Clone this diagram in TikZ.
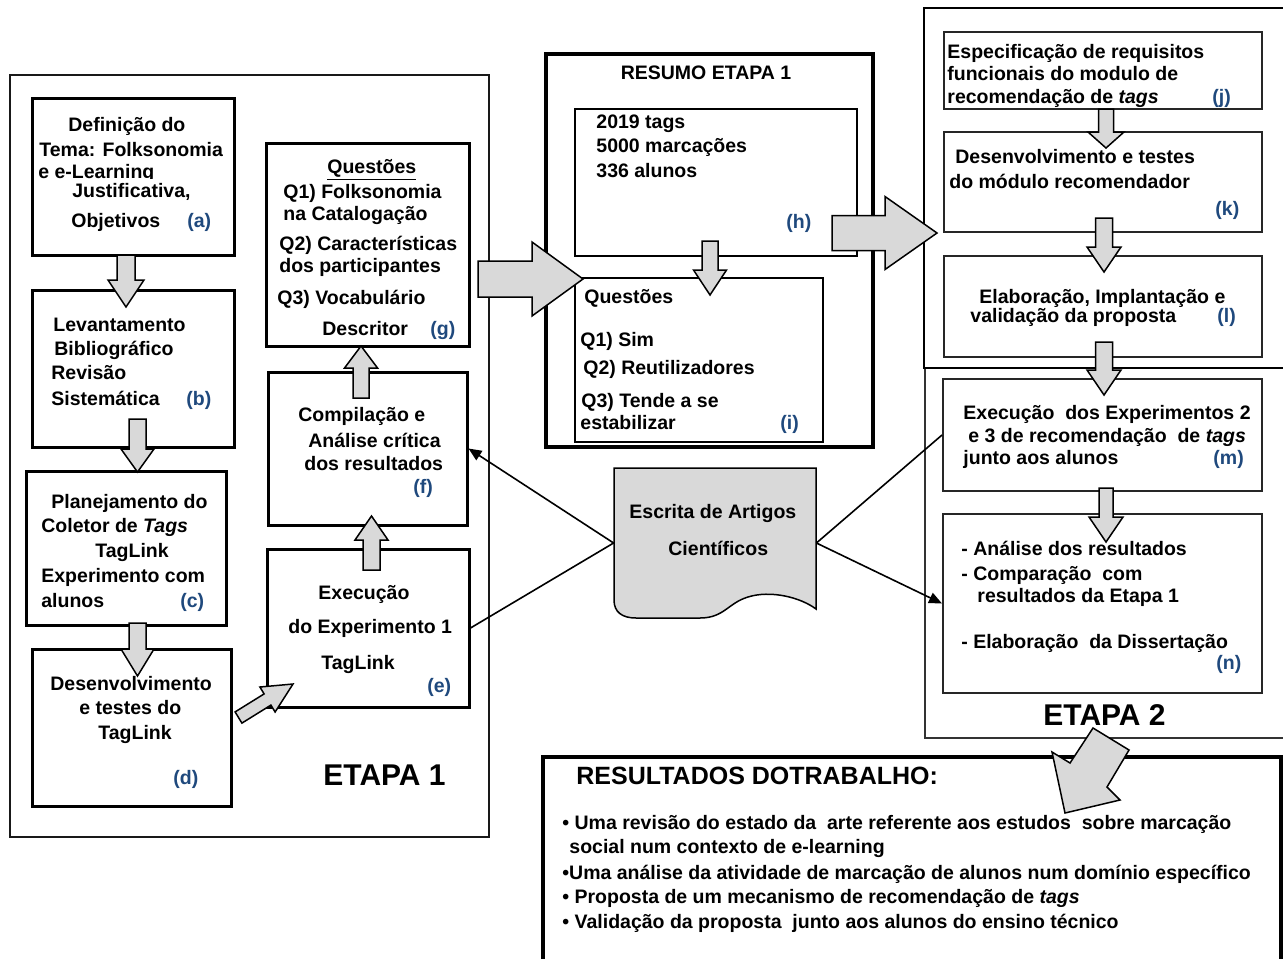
\documentclass[tikz,border=0pt]{standalone}
\usepackage{fontspec}
\setmainfont{Liberation Sans}
\usetikzlibrary{arrows.meta,fit}
\definecolor{lbl}{RGB}{31,73,125}
\definecolor{gfill}{RGB}{217,217,217}
\newcommand{\txl}[4]{\node[txt] (#1) at (#2,#3) {#4};}
\newcommand{\lbx}[4]{\node[lab] (#1) at (#2,#3) {#4};}
\newcommand{\vblk}[6]{\draw[blk] ({#1-#5},#2) -- ({#1+#5},#2) -- ({#1+#5},#3) -- ({#1+#6},#3) -- (#1,#4) -- ({#1-#6},#3) -- ({#1-#5},#3) -- cycle;}
\newcommand{\hblk}[6]{\draw[blk] (#2,{#1-#5}) -- (#2,{#1+#5}) -- (#3,{#1+#5}) -- (#3,{#1+#6}) -- (#4,#1) -- (#3,{#1-#6}) -- (#3,{#1-#5}) -- cycle;}
\tikzset{
  txt/.style={anchor=base west, inner sep=0pt, font=\fontsize{9.75}{11}\selectfont\bfseries},
  lab/.style={txt, text=lbl},
  big/.style={anchor=base west, inner sep=0pt, font=\fontsize{15}{18}\selectfont\bfseries},
  blk/.style={draw=black, line width=0.75pt, fill=gfill, line join=miter},
  boxL/.style={draw=black, line width=1.5pt, inner sep=0pt},
  boxR/.style={draw=black!85, line width=1pt, inner sep=0pt},
  boxH/.style={draw=black, line width=0.85pt, inner sep=0pt},
  con/.style={draw=black, line width=0.8pt},
  tip/.style={-{Triangle[length=6.5pt,width=5.5pt]}}
}
\begin{document}
\begin{tikzpicture}[x=0.5pt,y=-0.5pt]
\useasboundingbox (0,0) rectangle (1283,958);
\fill[white] (0,0) rectangle (1283,958);
\clip (0,0) rectangle (1283,958);

% outer frames
\node[draw=black!90, line width=1.4pt, inner sep=0pt, fit={(10,75) (489,837)}] (E1) {};
\node[draw=black, line width=1.7pt, inner sep=0pt, fit={(546,54) (873,447)}] (R) {};
\node[draw=black!80, line width=0.75pt, inner sep=0pt, fit={(925,368) (1300,738)}] (E2b) {};
\node[draw=black, line width=1.3pt, inner sep=0pt, fit={(924,8) (1300,368)}] (E2a) {};
\node[draw=black, line width=1.7pt, inner sep=0pt, fit={(543,757) (1281,975)}] (res) {};

% left boxes
\node[boxL, fit={(32,98) (234,255)}] (a) {};
\node[boxL, fit={(32,290) (234,447)}] (b) {};
\node[boxL, fit={(26,471) (226,625)}] (c) {};
\node[boxL, fit={(32,649) (231,806)}] (d) {};
\node[boxL, fit={(267,549) (469,707)}] (e) {};
\node[boxL, fit={(268,372) (467,525)}] (f) {};
\node[boxL, fit={(266,143) (469,346)}] (g) {};
% resumo boxes
\node[boxH, fit={(575,109) (857,256)}] (h) {};
\node[boxH, fit={(575,278) (823,442)}] (i) {};
% right boxes
\node[boxR, fit={(944,32) (1262,109)}] (j) {};
\node[boxR, fit={(944,132) (1262,232)}] (k) {};
\node[boxR, fit={(944,256) (1262,357)}] (l) {};
\node[boxR, fit={(943,379) (1262,491)}] (m) {};
\node[boxR, fit={(943,514) (1262,693)}] (n) {};

% block arrows
\vblk{126}{255}{280}{307}{9}{18}
\vblk{137.5}{419}{449}{472}{8.5}{16.5}
\vblk{137.5}{623}{649}{676}{8.5}{16.5}
\vblk{371.5}{570}{540}{516}{8.5}{16.5}
\vblk{361}{398}{368}{346}{8}{16.5}
\vblk{710}{241}{270}{295}{8}{16.5}
\vblk{1106}{109}{132}{148}{7.5}{18}
\vblk{1104}{218}{247}{272}{8.5}{17}
\vblk{1104}{342}{370}{395}{8.5}{17}
\vblk{1106}{488}{517}{542}{7}{17}
\hblk{279}{478}{532}{583}{18}{37}
\hblk{233}{832}{885}{937}{17.5}{36.5}
% diagonal d -> e
\draw[blk] (235.1,711.9) -- (264.1,693.9) -- (259.9,687) -- (293,684) -- (275.1,712) -- (270.9,705.1) -- (241.9,723.1) -- cycle;
% diagonal etapa 2 -> resultados
\draw[blk] (1093,728) -- (1129,750) -- (1107,787) -- (1120,800) -- (1065,813) -- (1052,752) -- (1070,763) -- cycle;

% document shape
\draw[line width=0.75pt, fill=gfill] (614,468) -- (816,468) -- (816,609)
  .. controls (800,597) and (770,590) .. (748,597)
  .. controls (728,603) and (724,618) .. (700,618)
  -- (636,618) .. controls (622,618) and (614,612) .. (614,600) -- cycle;
\node[inner sep=0pt, fit={(614,468) (816,618)}] (doc) {};

% connectors
\draw[con, tip] (doc.west) -- (f.east);
\draw[con] (doc.west) -- (e.east);
\draw[con] (doc.east) -- (m.west);
\draw[con, tip] (doc.east) -- (n.west);

% texts (a)
\txl{ta1}{68}{131}{Definição do}
\txl{ta2}{39}{156}{Tema: Folksonomia}
\txl{ta3}{38}{178}{e e-Learning}
\fill[white] (36,179) rectangle (200,183);
\txl{ta4}{72}{197}{Justificativa,}
\txl{ta5}{71}{227}{Objetivos}
\lbx{la}{187}{227}{(a)}
% (b)
\txl{tb1}{53}{331}{Levantamento}
\txl{tb2}{54}{355}{Bibliográfico}
\txl{tb3}{51}{379}{Revisão}
\txl{tb4}{51}{405}{Sistemática}
\lbx{lb}{186}{405}{(b)}
% (c)
\txl{tc1}{51}{508}{Planejamento do}
\txl{tc2}{41}{532}{Coletor de \textit{Tags}}
\txl{tc3}{95}{557}{TagLink}
\txl{tc4}{41}{582}{Experimento com}
\txl{tc5}{41}{607}{alunos}
\lbx{lc}{180}{607}{(c)}
% (d)
\txl{td1}{50}{690}{Desenvolvimento}
\txl{td2}{79}{714}{e testes do}
\txl{td3}{98}{739}{TagLink}
\lbx{ld}{173}{784}{(d)}
% (e)
\txl{te1}{318}{599}{Execução}
\txl{te2}{288}{633}{do Experimento 1}
\txl{te3}{321}{669}{TagLink}
\lbx{le}{427}{692}{(e)}
% (f)
\txl{tf1}{298}{421}{Compilação e}
\txl{tf2}{308}{447}{Análise crítica}
\txl{tf3}{304}{470}{dos resultados}
\lbx{lf}{413}{493}{(f)}
% (g)
\txl{tg1}{327}{173}{\underline{Questões}}
\txl{tg2}{283}{198}{Q1) Folksonomia}
\txl{tg3}{283}{220}{na Catalogação}
\txl{tg4}{279}{250}{Q2) Características}
\txl{tg5}{279}{272}{dos participantes}
\txl{tg6}{277}{304}{Q3) Vocabulário}
\txl{tg7}{322}{335}{Descritor}
\lbx{lg}{430}{335}{(g)}
\node[big] (et1) at (323,785) {ETAPA 1};

% resumo
\node[txt, anchor=base] (tr0) at (706,79) {RESUMO ETAPA 1};
\txl{th1}{596}{128}{2019 tags}
\txl{th2}{596}{152}{5000 marcações}
\txl{th3}{596}{177}{336 alunos}
\lbx{lh}{786}{228}{(h)}
\txl{ti1}{584}{303}{Questões}
\txl{ti2}{580}{346}{Q1) Sim}
\txl{ti3}{583}{374}{Q2) Reutilizadores}
\txl{ti4}{581}{407}{Q3) Tende a se}
\txl{ti5}{580}{429}{estabilizar}
\lbx{li}{780}{429}{(i)}

% right column
\txl{tj1}{947}{58}{Especificação de requisitos}
\txl{tj2}{947}{80}{funcionais do modulo de}
\txl{tj3}{947}{103}{recomendação de \textit{tags}}
\lbx{lj}{1212}{103}{(j)}
\txl{tk1}{955}{163}{Desenvolvimento e testes}
\txl{tk2}{949}{188}{do módulo recomendador}
\lbx{lk}{1215}{215}{(k)}
\txl{tl1}{979}{303}{Elaboração, Implantação e}
\txl{tl2}{970}{322}{validação da proposta}
\lbx{ll}{1217}{322}{(l)}
\txl{tm1}{963}{419}{Execução\ \ dos Experimentos 2}
\txl{tm2}{968}{442}{e 3 de recomendação\ \ de \textit{tags}}
\txl{tm3}{963}{464}{junto aos alunos}
\lbx{lm}{1213}{464}{(m)}
\txl{tn1}{961}{555}{- Análise dos resultados}
\txl{tn2}{961}{580}{- Comparação\ \ com}
\txl{tn3}{977}{602}{resultados da Etapa 1}
\txl{tn4}{961}{648}{- Elaboração\ \ da Dissertação}
\lbx{ln}{1216}{669}{(n)}
\node[big] (et2) at (1043,725) {ETAPA 2};

% document text
\txl{tw1}{629}{518}{Escrita de Artigos}
\txl{tw2}{668}{555}{Científicos}

% resultados
\node[anchor=base west, inner sep=0pt, font=\fontsize{12.5}{15}\selectfont\bfseries] (tres) at (576,784) {RESULTADOS DOTRABALHO:};
\txl{tr1}{562}{829}{• Uma revisão do estado da\ \ arte referente aos estudos\ \ sobre marcação}
\txl{tr2}{569}{853}{social num contexto de e-learning}
\txl{tr3}{562}{879}{•Uma análise da atividade de marcação de alunos num domínio específico}
\txl{tr4}{562}{903}{• Proposta de um mecanismo de recomendação de \textit{tags}}
\txl{tr5}{562}{928}{• Validação da proposta\ \ junto aos alunos do ensino técnico}
\end{tikzpicture}
\end{document}
